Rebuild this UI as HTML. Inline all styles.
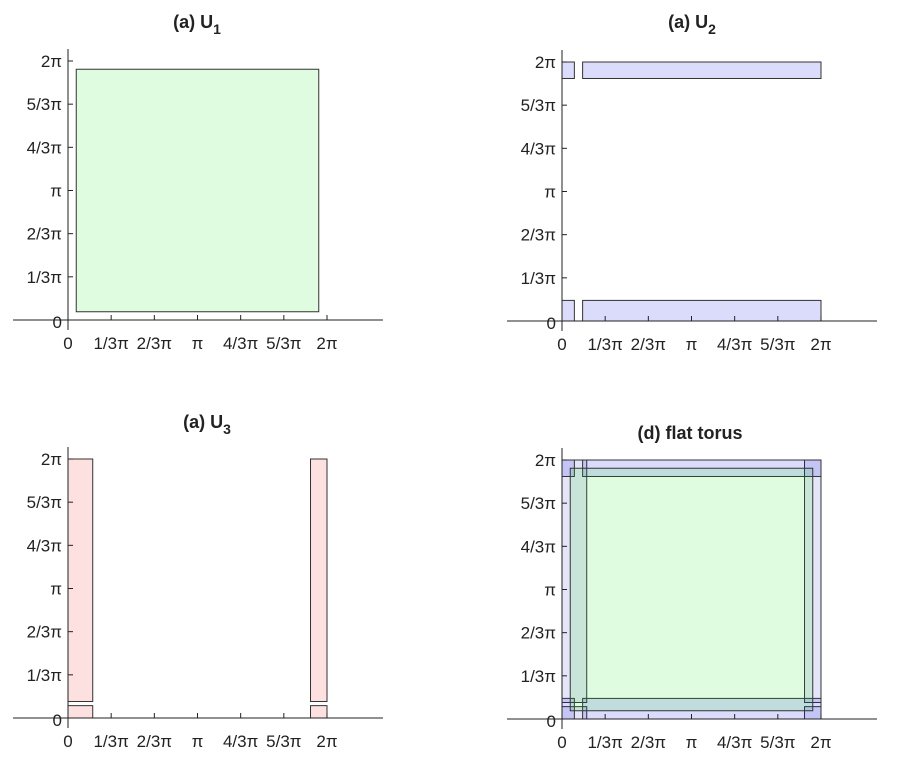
<!DOCTYPE html>
<html><head><meta charset="utf-8"><style>
body{margin:0;background:#fff}
svg{display:block}
text{font-family:"Liberation Sans",sans-serif;fill:#222}
.t{font-weight:bold;font-size:18px}
.tk{font-size:17px}
</style></head><body>
<svg id="c" width="914" height="768" viewBox="0 0 914 768"></svg>
<script>
const TWO_PI = 2*Math.PI;
const tickValues = [0, Math.PI/3, 2*Math.PI/3, Math.PI, 4*Math.PI/3, 5*Math.PI/3, 2*Math.PI];
const tickLabels = ["0","1/3\u03c0","2/3\u03c0","\u03c0","4/3\u03c0","5/3\u03c0","2\u03c0"];
// rectangles: [x0, x1, y0, y1] in radians
const eps = 0.2;
const u1Rects = [[eps, TWO_PI-eps, eps, TWO_PI-eps]];
const u2Rects = [[0,0.3,0,0.5],[0.5,TWO_PI,0,0.5],[0,0.3,TWO_PI-0.4,TWO_PI],[0.5,TWO_PI,TWO_PI-0.4,TWO_PI]];
const u3Rects = [[0,0.6,0,0.3],[0,0.6,0.4,TWO_PI],[TWO_PI-0.4,TWO_PI,0,0.3],[TWO_PI-0.4,TWO_PI,0.4,TWO_PI]];
const fills = {u1:"rgba(0,230,0,0.12)", u2:"rgba(0,0,230,0.14)", u3:"rgba(240,0,0,0.12)", u3t:"rgba(0,0,200,0.10)"};
const panels = [
  {name:"u1-panel", ox:68, oy:320, title:"(a) U", sub:"1", tx:197, ty:28, sets:[["u1",u1Rects]]},
  {name:"u2-panel", ox:562, oy:321, title:"(a) U", sub:"2", tx:692, ty:28, sets:[["u2",u2Rects]]},
  {name:"u3-panel", ox:68, oy:718, title:"(a) U", sub:"3", tx:207, ty:428, sets:[["u3",u3Rects]]},
  {name:"torus-panel", ox:562, oy:719, title:"(d) flat torus", sub:"", tx:690, ty:439, sets:[["u3t",u3Rects],["u2",u2Rects],["u1",u1Rects]]}
];
const S = 259/TWO_PI;
const NS="http://www.w3.org/2000/svg";
const svg=document.getElementById('c');
function mk(tag,attrs,parent){const e=document.createElementNS(NS,tag);for(const k in attrs)e.setAttribute(k,attrs[k]);parent.appendChild(e);return e;}
panels.forEach(p=>{
  const g=mk('g',{},svg);
  
  
  const X=v=>p.ox+v*S, Y=v=>p.oy-v*S;
  p.sets.forEach(([key,rects])=>{
    rects.forEach((r,i)=>{
      const el=mk('rect',{x:X(r[0]),y:Y(r[3]),width:X(r[1])-X(r[0]),height:Y(r[2])-Y(r[3]),fill:fills[key],stroke:"#333","stroke-width":1},g);
      
      
    });
  });
  const xa=mk('line',{x1:p.ox-55,x2:p.ox+315,y1:p.oy,y2:p.oy,stroke:"#222","stroke-width":1},g);
  
  
  const ya=mk('line',{x1:p.ox,x2:p.ox,y1:p.oy-271,y2:p.oy+10,stroke:"#222","stroke-width":1},g);
  
  
  tickValues.forEach((v,i)=>{
    mk('line',{x1:X(v),x2:X(v),y1:p.oy,y2:p.oy-5,stroke:"#222"},g);
    mk('line',{x1:p.ox,x2:p.ox+5,y1:Y(v),y2:Y(v),stroke:"#222"},g);
    const xl=mk('text',{x:X(v),y:p.oy+29,"text-anchor":"middle",class:"tk"},g);
    xl.textContent=tickLabels[i];
    
    
    const yl=mk('text',{x:p.ox-6,y:Y(v)+(i==0?8:6),"text-anchor":"end",class:"tk"},g);
    yl.textContent=tickLabels[i];
    
    
  });
  const t=mk('text',{x:p.tx,y:p.ty,"text-anchor":"middle",class:"t"},g);
  t.textContent=p.title;
  if(p.sub){const s=mk('tspan',{dy:6,"font-size":"14px"},t);s.textContent=p.sub;}
  
  
});
</script>
</body></html>
